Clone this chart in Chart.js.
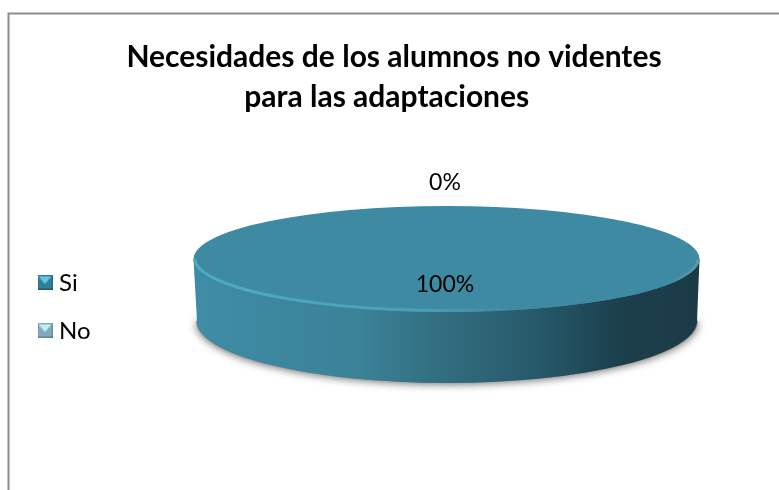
<!DOCTYPE html>
<html><head><meta charset="utf-8">
<style>html,body{margin:0;padding:0;background:#fff}canvas{display:block}#w{width:779px;height:490px}</style>
<script src="https://cdn.jsdelivr.net/npm/chart.js@4"></script></head>
<body><div id="w"><canvas id="c"></canvas></div>
<script>
const categories = ['Si', 'No'];
const seriesValues = [100, 0];
const sliceColors = ['#3f8aa3', '#7fabbb'];
const titleLines = ['Necesidades de los alumnos no videntes', 'para las adaptaciones  '];
const FONT = 'Lato, Carlito, sans-serif';

function bevel(base, light, dark) {
  const s = 15, cv = document.createElement('canvas');
  cv.width = cv.height = s;
  const x = cv.getContext('2d');
  x.fillStyle = base; x.fillRect(0, 0, s, s);
  x.fillStyle = light; x.beginPath(); x.moveTo(1,1); x.lineTo(s-1,1); x.lineTo(s/2,s/2+1); x.closePath(); x.fill();
  x.fillStyle = dark; x.fillRect(0, s-2, s, 2);
  x.fillStyle = 'rgba(0,0,0,.15)'; x.fillRect(0,0,1,s); x.fillRect(s-1,0,1,s);
  return cv;
}
const legendIcons = [bevel('#2f7f98', '#63c8e2', '#27596b'), bevel('#7fabbb', '#c6ecf6', '#5f8494')];

const TOP = {x: 446.5, y: 259, rx: 253, ry: 53};
const BOT = {x: 447, y: 321, rx: 250, ry: 62};

const pie3d = {
  id: 'pie3d',
  beforeDraw(chart) {
    const c = chart.ctx;
    c.save();
    c.fillStyle = '#fff'; c.fillRect(0, 0, chart.width, chart.height);
    c.strokeStyle = '#8c8c8c'; c.lineWidth = 2;
    c.beginPath(); c.moveTo(8.5, 490); c.lineTo(8.5, 13.5); c.lineTo(779, 13.5); c.stroke();
    c.restore();
  },
  beforeDatasetsDraw(chart) {
    const c = chart.ctx, arc = chart.getDatasetMeta(0).data[0];
    // shadow
    c.save();
    c.shadowColor = 'rgba(0,0,0,.6)'; c.shadowBlur = 8; c.shadowOffsetY = 1;
    c.fillStyle = '#888';
    c.beginPath(); c.ellipse(BOT.x, BOT.y, BOT.rx + 1, BOT.ry, 0, 0, Math.PI); c.closePath(); c.fill();
    c.restore();
    // side wall
    const g = c.createLinearGradient(193, 0, 700, 0);
    [[0,'#3e8da6'],[0.33,'#3b8197'],[0.52,'#306a7c'],[0.68,'#27596a'],[0.84,'#1c3f4c'],[1,'#1b3a46']]
      .forEach(s => g.addColorStop(s[0], s[1]));
    c.save();
    c.fillStyle = g;
    c.beginPath();
    c.moveTo(TOP.x - TOP.rx, TOP.y);
    c.lineTo(BOT.x - BOT.rx, BOT.y);
    c.ellipse(BOT.x, BOT.y, BOT.rx, BOT.ry, 0, Math.PI, 0, true);
    c.lineTo(TOP.x + TOP.rx, TOP.y);
    c.closePath(); c.fill();
    c.restore();
    // squash the library's circular pie to the tilted top face
    const r = arc.outerRadius;
    c.save();
    c.translate(TOP.x, TOP.y);
    c.scale(TOP.rx / r, TOP.ry / r);
    c.translate(-arc.x, -arc.y);
  },
  afterDatasetsDraw(chart) {
    const c = chart.ctx;
    c.restore();
    // rim bevel
    c.save();
    c.beginPath(); c.ellipse(TOP.x, TOP.y, TOP.rx, TOP.ry, 0, 0, Math.PI * 2); c.clip();
    const g = c.createLinearGradient(193, 0, 700, 0);
    g.addColorStop(0, '#50a9c4'); g.addColorStop(0.45, '#49a0bb'); g.addColorStop(0.62, '#3f8aa3'); g.addColorStop(0.93, '#3f8aa3'); g.addColorStop(1, '#5c99ad');
    c.strokeStyle = g; c.lineWidth = 6; c.filter = 'blur(0.7px)';
    c.beginPath(); c.ellipse(TOP.x, TOP.y, TOP.rx, TOP.ry, 0, 0, Math.PI); c.stroke();
    c.restore();
    // percent labels
    const total = seriesValues.reduce((a, b) => a + b, 0);
    const labelAt = [[445, 285], [445, 183]];
    c.save();
    c.font = '23px ' + FONT; c.fillStyle = '#000'; c.textAlign = 'center'; c.textBaseline = 'middle';
    seriesValues.forEach((v, i) => c.fillText(Math.round(v / total * 100) + '%', labelAt[i][0], labelAt[i][1]));
    c.restore();
  }
};

new Chart(document.getElementById('c'), {
  type: 'pie',
  data: { labels: categories, datasets: [{ data: seriesValues, backgroundColor: sliceColors, borderWidth: 0 }] },
  options: {
    responsive: true, maintainAspectRatio: false, animation: false,
    layout: { padding: { left: 19, right: 10, top: 0, bottom: 0 } },
    plugins: {
      tooltip: { enabled: false },
      title: { display: true, text: titleLines, color: '#000', font: { family: FONT, size: 30, weight: 'bold', lineHeight: 1.33 }, padding: { top: 37, bottom: 7 } },
      legend: {
        position: 'left', align: 'center', fullSize: false,
        labels: {
          color: '#000', font: { family: FONT, size: 24 }, padding: 24, boxWidth: 15, boxHeight: 15, usePointStyle: true, pointStyleWidth: 4,
          generateLabels: () => categories.map((t, i) => ({ text: t, pointStyle: legendIcons[i], fillStyle: sliceColors[i], strokeStyle: sliceColors[i], lineWidth: 0, hidden: false, index: i }))
        }
      }
    }
  },
  plugins: [pie3d]
});
</script></body></html>
